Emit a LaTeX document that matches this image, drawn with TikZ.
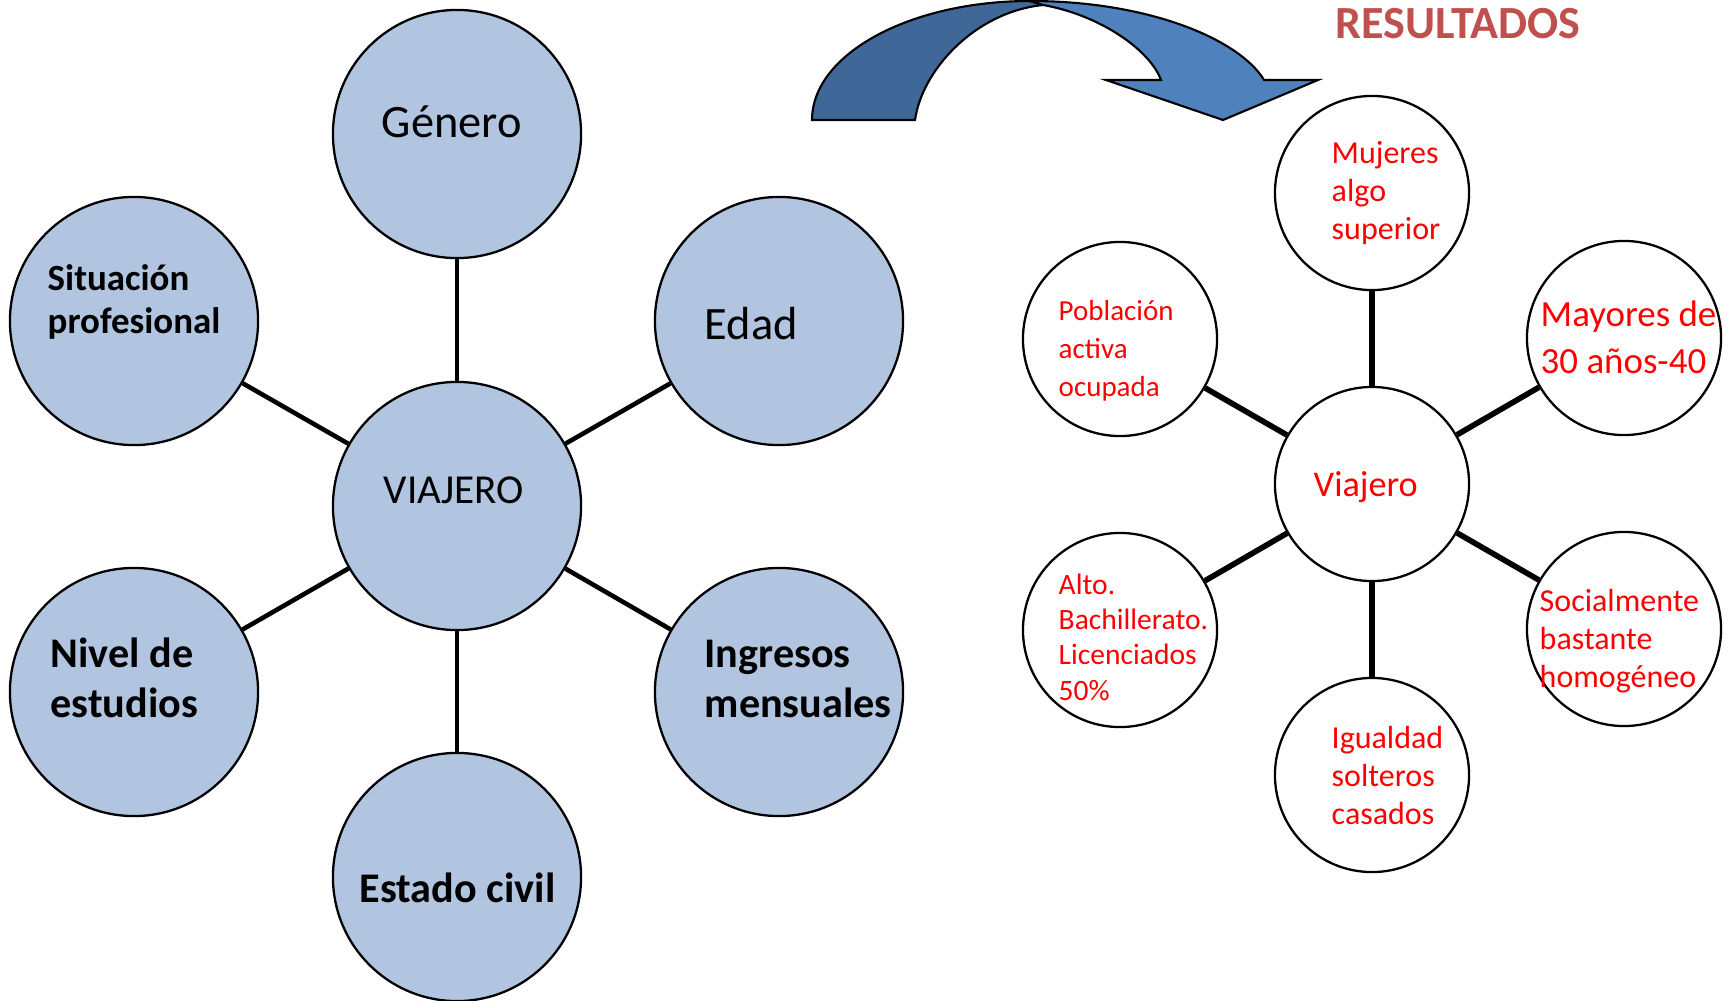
\documentclass[tikz,border=0pt]{standalone}
\usepackage{fontspec}
\setmainfont{Carlito}
\definecolor{bubfill}{HTML}{B1C5E1}
\definecolor{arrlight}{HTML}{4F81BD}
\definecolor{arrdark}{HTML}{3F6797}
\definecolor{restitle}{HTML}{C0504D}
\begin{document}
\begin{tikzpicture}[x=0.01cm,y=-0.01cm,
    bub/.style={circle,draw=black,line width=0.65pt,fill=bubfill,minimum size=2.48cm,inner sep=0pt},
    rbub/.style={circle,draw=black,line width=0.65pt,fill=white,minimum size=1.94cm,inner sep=0pt},
    txt/.style={anchor=base west,align=left,inner sep=0pt},
    rtxt/.style={txt,text=red}]
    \useasboundingbox (0,0) rectangle (1731,1000);
    % left diagram
    \node[bub] (via) at (457,506) {};
    \node[bub] (gen) at (457,134) {};
    \node[bub] (sit) at (134,321) {};
    \node[bub] (eda) at (779,321) {};
    \node[bub] (niv) at (134,692) {};
    \node[bub] (ing) at (779,692) {};
    \node[bub] (est) at (457,877) {};
    \foreach \n in {gen,sit,eda,niv,ing,est}
        \draw[line width=1.3pt] (via) -- (\n);
    \node[txt,font=\fontsize{13.2}{15.8}\selectfont] (gen-t) at (381,137) {Género};
    \node[txt,font=\fontsize{13.2}{15.8}\selectfont] (eda-t) at (704,339) {Edad};
    \node[txt,font=\fontsize{11.7}{14}\selectfont] (via-t) at (383,503) {VIAJERO};
    \node[txt,font=\bfseries\fontsize{10.5}{12.2}\selectfont] (sit-t) at (47,333) {Situación\\profesional};
    \node[txt,font=\bfseries\fontsize{12}{14.2}\selectfont] (niv-t) at (50,717) {Nivel de\\estudios};
    \node[txt,font=\bfseries\fontsize{12}{14.2}\selectfont] (ing-t) at (704,717) {Ingresos\\mensuales};
    \node[txt,font=\bfseries\fontsize{12}{14.2}\selectfont] (est-t) at (359,902) {Estado civil};
    % arrow
    \filldraw[fill=arrdark,draw=black,line width=0.6pt] (812,120) -- (915,120)
        .. controls (922,70) and (975,12) .. (1043,5) -- (1030,1)
        .. controls (910,1) and (812,54) .. (812,120) -- cycle;
    \filldraw[fill=arrlight,draw=black,line width=0.6pt] (1030,1)
        .. controls (1150,1) and (1240,40) .. (1264,80) -- (1318,80) -- (1223,120) -- (1106,80) -- (1161,80)
        .. controls (1150,50) and (1100,15) .. (1043,5) -- cycle;
    \node[txt,font=\bfseries\fontsize{13.1}{15.7}\selectfont,text=restitle] (res) at (1335,38) {RESULTADOS};
    % right diagram
    \node[rbub] (vij) at (1372,484) {};
    \node[rbub] (muj) at (1372,193) {};
    \node[rbub] (pob) at (1120,339) {};
    \node[rbub] (may) at (1624,338) {};
    \node[rbub] (alt) at (1120,630) {};
    \node[rbub] (soc) at (1624,629) {};
    \node[rbub] (igu) at (1372,775) {};
    \foreach \n in {muj,pob,may,alt,soc,igu}
        \draw[line width=1.6pt] (vij) -- (\n);
    \node[rtxt,font=\fontsize{10.3}{12.4}\selectfont] (vij-t) at (1313,496) {Viajero};
    \node[rtxt,font=\fontsize{9.1}{10.8}\selectfont] (muj-t) at (1331,239) {Mujeres\\algo\\superior};
    \node[rtxt,font=\fontsize{8.25}{10.8}\selectfont] (pob-t) at (1058,396) {Población\\activa\\ocupada};
    \node[rtxt,font=\fontsize{10.5}{13.1}\selectfont] (may-t) at (1540,373) {Mayores de\\30 años-40};
    \node[rtxt,font=\fontsize{8.4}{10}\selectfont] (alt-t) at (1058,700) {Alto.\\Bachillerato.\\Licenciados\\50\%};
    \node[rtxt,font=\fontsize{9.1}{10.8}\selectfont] (soc-t) at (1539,687) {Socialmente\\bastante\\homogéneo};
    \node[rtxt,font=\fontsize{9.1}{10.8}\selectfont] (igu-t) at (1331,824) {Igualdad\\solteros\\casados};
\end{tikzpicture}
\end{document}
